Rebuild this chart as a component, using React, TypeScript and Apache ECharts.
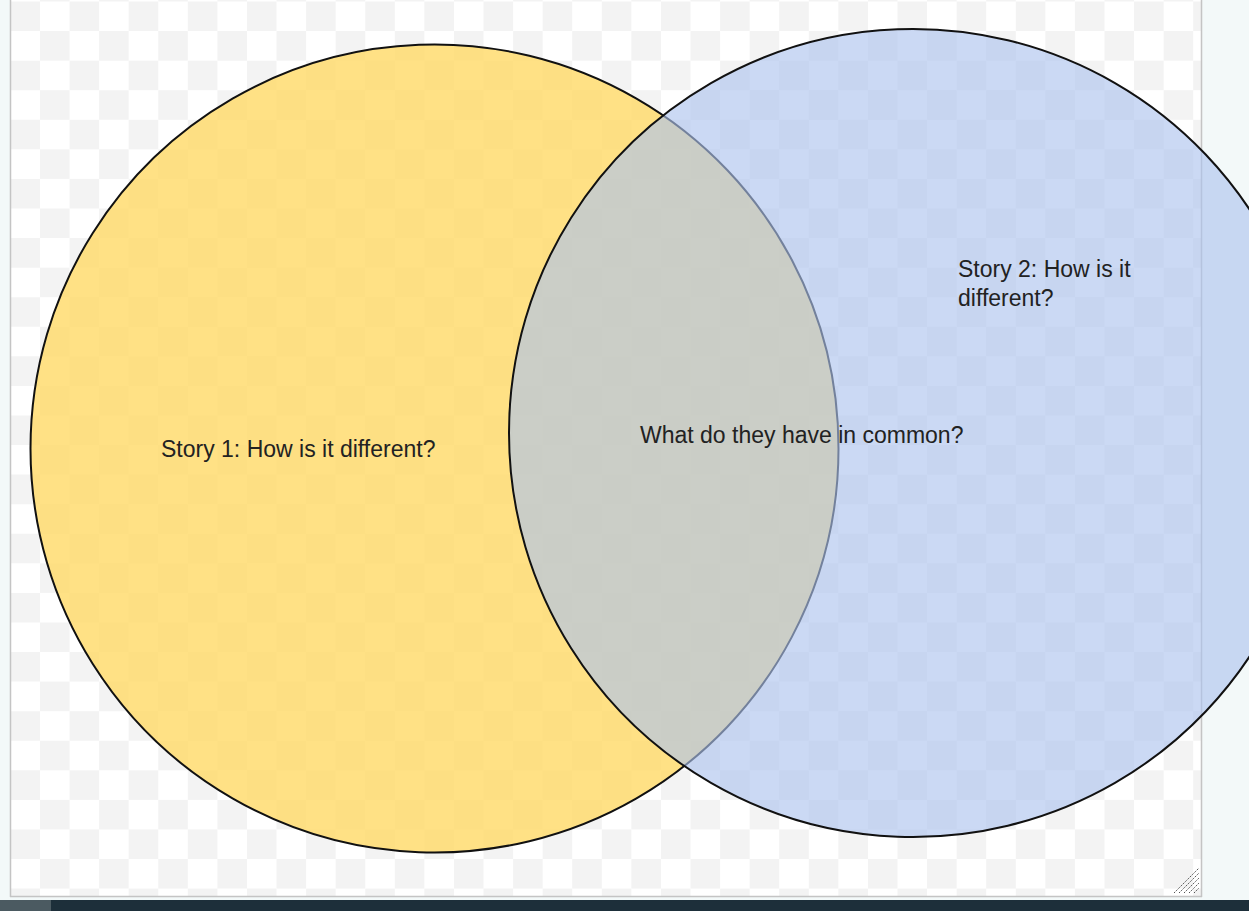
import React, { useEffect, useRef } from "react";
import * as echarts from "echarts";

// Venn diagram content
const circleNames = ["Story 1", "Story 2"];
const circleCenters: [number, number][] = [
  [434.5, 448.5],
  [913, 433],
];
const circleRadii = [404, 404];
const circleFills = ["rgba(255,217,102,0.8)", "rgba(172,195,237,0.63)"];

const labelTexts = [
  "Story 1: How is it different?",
  "What do they have in common?",
  "Story 2: How is it\ndifferent?",
];
const labelPositions: [number, number][] = [
  [161, 449],
  [640, 435],
  [958, 269],
];

// canvas (checkerboard) frame
const canvasLeft = 11;
const canvasRight = 1201;
const canvasTop = 0;
const canvasBottom = 896;
const checkSize = 29.57;
const checkX0 = 10.4;
const checkY0 = 1.5;

function buildChecker(): any[] {
  const out: any[] = [];
  for (let r = -1; r < 32; r++) {
    for (let c = 0; c < 42; c++) {
      if ((r + c) % 2 !== 0) continue; // gray when (r+c) even
      let x1 = checkX0 + c * checkSize;
      let y1 = checkY0 + r * checkSize;
      let x2 = x1 + checkSize;
      let y2 = y1 + checkSize;
      x1 = Math.max(x1, canvasLeft);
      y1 = Math.max(y1, canvasTop);
      x2 = Math.min(x2, canvasRight);
      y2 = Math.min(y2, canvasBottom);
      if (x2 <= x1 || y2 <= y1) continue;
      out.push({
        type: "rect",
        silent: true,
        shape: { x: x1, y: y1, width: x2 - x1, height: y2 - y1 },
        style: { fill: "#f3f3f3" },
      });
    }
  }
  return out;
}

const FONT_SIZE = 23;
const LINE_HEIGHT = 29;

export default function App() {
  const ref = useRef<HTMLDivElement>(null);
  useEffect(() => {
    if (!ref.current) return;
    const chart = echarts.init(ref.current, undefined, { renderer: "svg" });
    const elements: any[] = [];
    // canvas white area
    elements.push({
      type: "rect",
      shape: { x: canvasLeft, y: canvasTop, width: canvasRight - canvasLeft, height: canvasBottom - canvasTop },
      style: { fill: "#ffffff" },
    });
    elements.push(...buildChecker());
    // borders
    elements.push({
      type: "line",
      shape: { x1: 10.5, y1: 0, x2: 10.5, y2: 897 },
      style: { stroke: "#c4c4c4", lineWidth: 1.5 },
    });
    elements.push({
      type: "line",
      shape: { x1: 1201.5, y1: 0, x2: 1201.5, y2: 897 },
      style: { stroke: "#c4c4c4", lineWidth: 1.5 },
    });
    elements.push({
      type: "line",
      shape: { x1: 10, y1: 896.5, x2: 1202, y2: 896.5 },
      style: { stroke: "#c4c4c4", lineWidth: 1.5 },
    });
    // resize grip
    for (let k = 0; k < 5; k++) {
      elements.push({
        type: "line",
        shape: { x1: 1174 + k * 5, y1: 893, x2: 1199, y2: 868 + k * 5 },
        style: { stroke: "#555555", lineWidth: 1, lineDash: [1.5, 1] },
      });
    }
    // circles
    circleNames.forEach((name, i) => {
      elements.push({
        type: "circle",
        name,
        shape: { cx: circleCenters[i][0], cy: circleCenters[i][1], r: circleRadii[i] },
        style: { fill: circleFills[i], stroke: "#111111", lineWidth: 2 },
      });
    });
    // labels (each label's first line is centred on its position)
    labelTexts.forEach((t, i) => {
      elements.push({
        type: "text",
        x: labelPositions[i][0],
        y: labelPositions[i][1] - LINE_HEIGHT / 2,
        style: {
          text: t,
          fill: "#222222",
          fontFamily: '"Liberation Sans", Arial, sans-serif',
          fontSize: FONT_SIZE,
          lineHeight: LINE_HEIGHT,
          align: "left",
          verticalAlign: "top",
        },
      });
    });
    // bottom bar
    elements.push({
      type: "rect",
      shape: { x: 0, y: 900, width: 1249, height: 11 },
      style: { fill: "#1d2f3a" },
    });
    elements.push({
      type: "rect",
      shape: { x: 0, y: 900, width: 51, height: 11 },
      style: { fill: "#4b5a61" },
    });

    chart.setOption({
      animation: false,
      backgroundColor: "#f3f9f9",
      graphic: { elements },
    });
    return () => chart.dispose();
  }, []);
  return (
    <div
      ref={ref}
      style={{ position: "fixed", left: 0, top: 0, width: 1249, height: 911 }}
    />
  );
}
